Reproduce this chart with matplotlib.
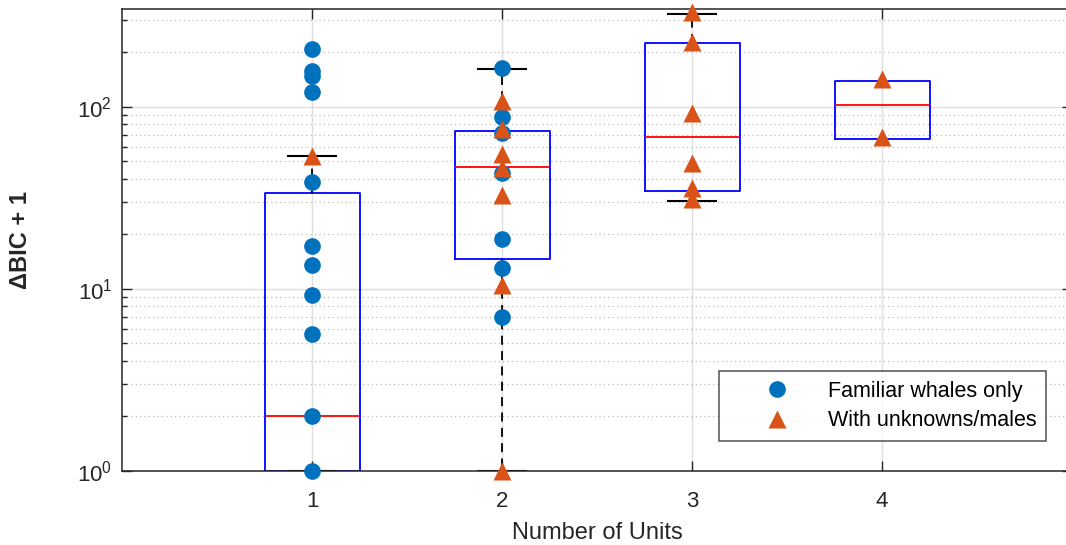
import numpy as np
import matplotlib
matplotlib.use('Agg')
import matplotlib.pyplot as plt
from matplotlib.ticker import LogLocator, NullFormatter

plt.rcParams['font.family'] = ['Liberation Sans', 'DejaVu Sans']
plt.rcParams['mathtext.default'] = 'regular'

# values (Delta BIC + 1)
units = [1, 2, 3, 4]

fam_x = [1]*11 + [2]*7
fam_y = [207, 157, 147, 120, 38.7, 17.2, 13.5, 9.23, 5.66, 2.0, 1.0,
         164, 88.1, 71.4, 43.1, 18.7, 13.0, 7.02]

unk_x = [1] + [2]*7 + [3]*6 + [4]*2
unk_y = [53.6,
         107, 75.7, 55.0, 45.9, 32.7, 10.5, 1.0,
         333, 228, 92, 48.9, 35.6, 31.0,
         142, 68.4]

# box statistics per group
q1 = [1.0, 14.5, 34.4, 66.5]
med = [2.0, 46.4, 68.4, 102.6]
q3 = [33.7, 73.5, 223, 139]
wlo = [1.0, 1.0, 30.2, 66.5]
whi = [53.6, 161, 323, 139]

stats = []
for i in range(len(units)):
    stats.append(dict(q1=q1[i], med=med[i], q3=q3[i], whislo=wlo[i], whishi=whi[i], fliers=[]))

fig = plt.figure(figsize=(10.66, 5.45), dpi=100)
ax = fig.add_axes([122/1066, (545-470.7)/545, 950/1066, (470.7-9)/545])

ax.bxp(stats, positions=units, widths=0.5, capwidths=[0.25, 0.25, 0.25, 0],
       showfliers=False, manage_ticks=False,
       boxprops=dict(color='blue', linewidth=1.3),
       medianprops=dict(color='red', linewidth=1.3),
       whiskerprops=dict(color='black', linestyle=(0, (5, 3.5)), linewidth=1.3),
       capprops=dict(color='black', linewidth=1.5))

ax.plot(fam_x, fam_y, 'o', color='#0072BD', ms=12, mec='none', zorder=4,
        clip_on=False, label='Familiar whales only')
ax.plot(unk_x, unk_y, '^', color='#D95319', ms=13, mec='none', zorder=5,
        clip_on=False, label='With unknowns/males')

ax.set_yscale('log')
ax.set_xlim(0, 5)
ax.set_ylim(1, 344)
ax.set_xticks(units)
ax.yaxis.set_major_locator(LogLocator(base=10))
ax.yaxis.set_minor_locator(LogLocator(base=10, subs=np.arange(2, 10)))
ax.yaxis.set_minor_formatter(NullFormatter())

ax.grid(True, which='major', color='#dedede', linestyle='-', linewidth=1, zorder=0)
ax.grid(True, which='minor', axis='y', color='#bdbdbd', linestyle=(0, (1, 2.5)), linewidth=0.9, zorder=0)
ax.set_axisbelow(True)

ax.tick_params(which='both', direction='in', top=True, right=True, colors='#262626',
               labelsize=16, width=1)
ax.tick_params(which='major', length=7)
ax.tick_params(which='minor', length=3.5)
ax.tick_params(axis='x', pad=14.5)
ax.tick_params(axis='y', pad=7)
for s in ax.spines.values():
    s.set_color('#262626')
    s.set_linewidth(1.1)

ax.set_xlabel('Number of Units', fontsize=17, color='#262626', labelpad=7)
ax.set_ylabel('ΔBIC + 1', fontsize=17, fontweight='bold', color='#262626')
ax.yaxis.set_label_coords(-0.0947, 0.5)

leg = ax.legend(loc='lower right', bbox_to_anchor=(1046/1066, (545-441)/545),
                bbox_transform=fig.transFigure, fontsize=15.5, frameon=True,
                fancybox=False, edgecolor='#262626', borderpad=0.45,
                handletextpad=0.15, handlelength=4.45, labelspacing=0.4,
                borderaxespad=0)
leg.get_frame().set_linewidth(1.1)

fig.savefig('out.png', dpi=100)
